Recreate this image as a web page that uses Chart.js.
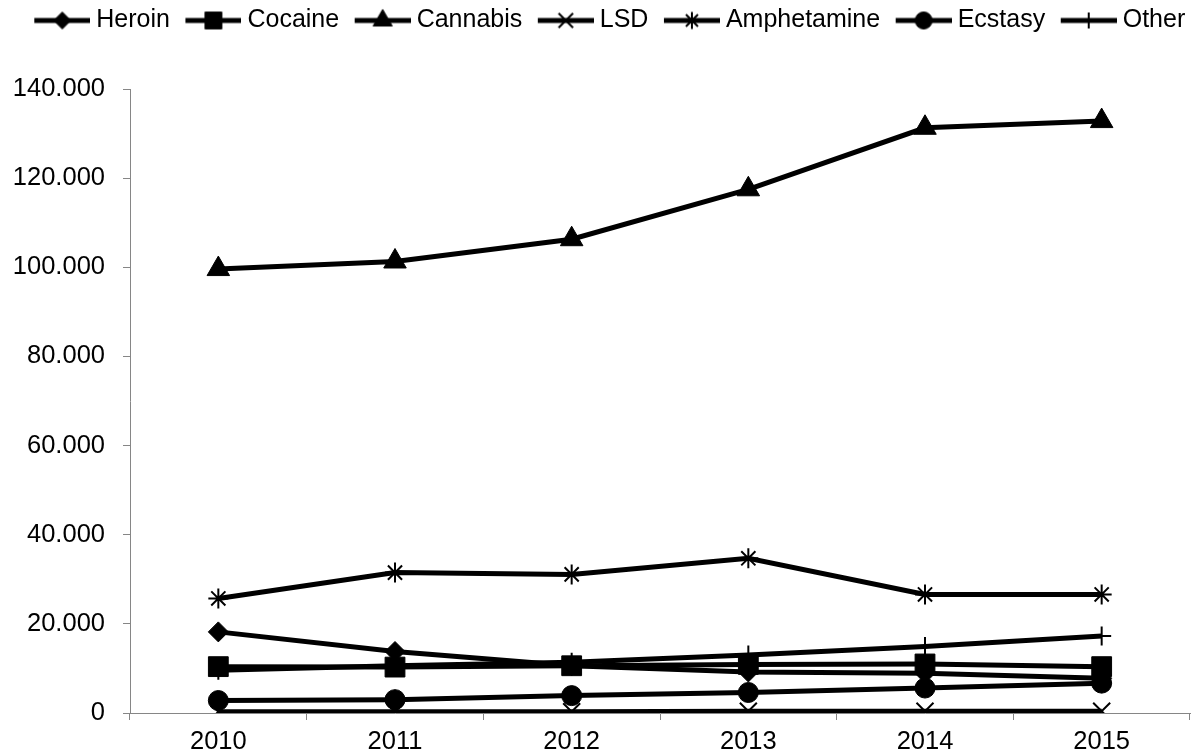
<!DOCTYPE html>
<html>
<head>
<meta charset="utf-8">
<title>Drug offences 2010–2015</title>
<script src="https://cdn.jsdelivr.net/npm/chart.js@4/dist/chart.umd.min.js"></script>
<style>
  html, body { margin: 0; padding: 0; background: #ffffff; }
  #wrap { width: 1199px; height: 756px; }
</style>
</head>
<body>
<div id="wrap"><canvas id="chart" width="1199" height="756"></canvas></div>
<script>
// Categories and series
const years       = ['2010', '2011', '2012', '2013', '2014', '2015'];
const heroin      = [18200, 13800, 10600, 9200, 8900, 7800];
const cocaine     = [10400, 10300, 10600, 10900, 11000, 10400];
const cannabis    = [99600, 101300, 106300, 117500, 131300, 132800];
const lsd         = [300, 300, 300, 400, 400, 400];
const amphetamine = [25700, 31500, 31100, 34700, 26600, 26600];
const ecstasy     = [2800, 3000, 3900, 4600, 5600, 6700];
const other       = [9600, 10600, 11400, 13000, 14900, 17300];

// Y axis
const yMin = 0, yMax = 140000, yStep = 20000;

const FONT = "'Liberation Sans', Arial, Helvetica, sans-serif";
const AXIS_GREY = '#868686';

// series name, values, marker style, marker radius, marker outline width
const series = [
  ['Heroin',      heroin,      'rectRot',  10,  1],
  ['Cocaine',     cocaine,     'rect',     14,  1],
  ['Cannabis',    cannabis,    'triangle', 13,  1],
  ['LSD',         lsd,         'crossRot', 12,  2],
  ['Amphetamine', amphetamine, 'star',     10,  2],
  ['Ecstasy',     ecstasy,     'circle',   10,  1],
  ['Other',       other,       'cross',    9.5, 2]
];

// Thousands separated with a dot: 140000 -> "140.000"
function fmt(v) {
  return String(v).replace(/\B(?=(\d{3})+(?!\d))/g, '.');
}

// Legend swatch: a short thick line with the series marker in its middle
const SW_BOX = 59;            // space reserved per swatch in the legend row
const SW_W = SW_BOX + 13;     // drawn width (reaches a little past the box)
const SW_H = 26;
function swatch(style, radius, bw) {
  const c = document.createElement('canvas');
  c.width = SW_W; c.height = SW_H;
  const ctx = c.getContext('2d');
  const x0 = 16, x1 = SW_W, cy = SW_H / 2;
  ctx.strokeStyle = '#000'; ctx.fillStyle = '#000';
  ctx.lineWidth = 5; ctx.lineCap = 'butt';
  ctx.beginPath(); ctx.moveTo(x0, cy); ctx.lineTo(x1, cy); ctx.stroke();
  ctx.lineWidth = bw;
  Chart.helpers.drawPoint(ctx, { pointStyle: style, radius: radius * 0.85, borderWidth: bw, rotation: 0 }, (x0 + x1) / 2, cy);
  return c;
}

const datasets = series.map((s, i) => ({
  label: s[0],
  data: s[1],
  borderColor: '#000',
  backgroundColor: '#000',
  borderWidth: 5,
  tension: 0,
  fill: false,
  pointStyle: s[2],
  pointRadius: s[3],
  pointHoverRadius: s[3],
  pointBorderWidth: s[4],
  pointBackgroundColor: '#000',
  pointBorderColor: '#000',
  order: series.length - i,   // later series drawn on top
  swatch: swatch(s[2], s[3], s[4])
}));

// Nudge the legend row a little to the right of centre
const legendShift = {
  id: 'legendShift',
  afterLayout(chart) {
    if (chart.legend) {
      chart.legend.left += 10;
      chart.legend.right += 10;
    }
  }
};

new Chart(document.getElementById('chart'), {
  type: 'line',
  data: { labels: years, datasets: datasets },
  plugins: [legendShift],
  options: {
    responsive: false,
    animation: false,
    devicePixelRatio: 1,
    layout: {
      autoPadding: false,
      padding: { left: 0, right: 9, top: 2, bottom: 0 }
    },
    plugins: {
      tooltip: { enabled: false },
      legend: {
        display: true,
        position: 'top',
        align: 'center',
        weight: 1000,
        labels: {
          usePointStyle: true,
          pointStyleWidth: SW_BOX,
          padding: 6,
          color: '#000',
          font: { family: FONT, size: 25 },
          generateLabels(chart) {
            return chart.data.datasets.map((ds, i) => ({
              text: ds.label,
              fillStyle: '#000',
              strokeStyle: '#000',
              fontColor: '#000',
              lineWidth: 0,
              pointStyle: ds.swatch,
              hidden: false,
              datasetIndex: i
            }));
          }
        }
      },
      // empty spacer between the legend row and the plot
      title: {
        display: true,
        text: ' ',
        weight: 500,
        padding: 0,
        font: { family: FONT, size: 46, lineHeight: 1 }
      }
    },
    scales: {
      x: {
        type: 'category',
        offset: true,
        grid: {
          offset: true,
          drawOnChartArea: false,
          drawTicks: true,
          tickLength: 7,
          color: AXIS_GREY,
          lineWidth: 1
        },
        border: { display: true, color: AXIS_GREY, width: 1 },
        ticks: {
          color: '#000',
          padding: 7,
          maxRotation: 0,
          font: { family: FONT, size: 25.5 }
        },
        afterFit(scale) {
          scale.height = 43;
          scale.paddingLeft = 0;
          scale.paddingRight = 0;
        }
      },
      y: {
        min: yMin,
        max: yMax,
        grid: {
          drawOnChartArea: false,
          drawTicks: true,
          tickLength: 7,
          color: AXIS_GREY,
          lineWidth: 1
        },
        border: { display: true, color: AXIS_GREY, width: 1 },
        ticks: {
          stepSize: yStep,
          color: '#000',
          padding: 18,
          font: { family: FONT, size: 25.5 },
          callback: (v) => fmt(v)
        },
        afterFit(scale) { scale.width = 130; }
      }
    }
  }
});
</script>
</body>
</html>
